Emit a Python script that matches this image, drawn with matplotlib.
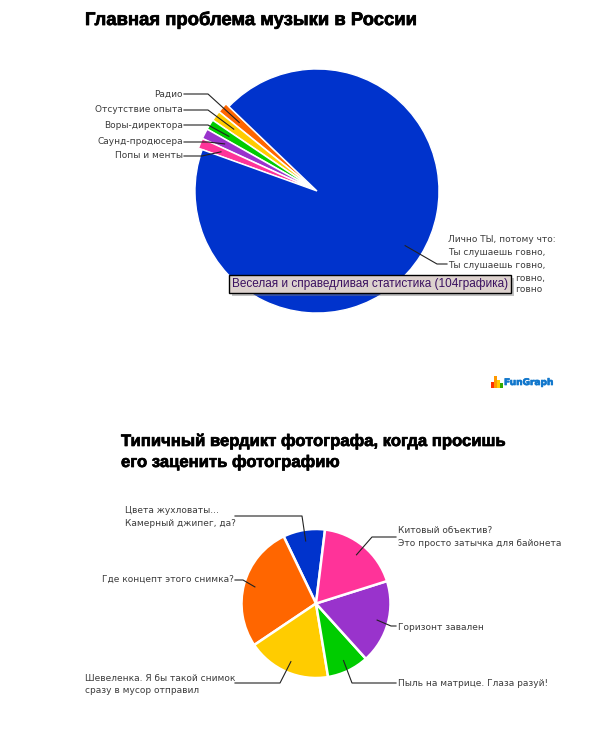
import numpy as np
import matplotlib
matplotlib.use("Agg")
import matplotlib.pyplot as plt
from matplotlib.patches import Rectangle
import matplotlib.patheffects as pe

W, H = 600, 746

# top pie
music_labels = ["Радио", "Отсутствие опыта", "Воры-директора", "Саунд-продюсера", "Попы и менты",
                "Лично ТЫ, потому что:\nТы слушаешь говно,\nТы слушаешь говно,"]
music_hidden = ["говно,", "говно"]  # the rest sticks out from under the tooltip
music_values = [1, 1, 1, 1, 1, 70]
music_explode = [4, 4, 4, 4, 4, 0]  # pie() takes this in axes units, here pixels
music_colors = ["#ff6600", "#ffcc00", "#00cc00", "#9933cc", "#ff3399", "#0033cc"]

# bottom pie
photo_labels = ["Цвета жухловаты...\nКамерный джипег, да?", "Где концепт этого снимка?",
                "Шевеленка. Я бы такой снимок\nсразу в мусор отправил", "Пыль на матрице. Глаза разуй!",
                "Горизонт завален", "Китовый объектив?\nЭто просто затычка для байонета"]
photo_values = [10, 30, 20, 10, 20, 20]
photo_colors = ["#0033cc", "#ff6600", "#ffcc00", "#00cc00", "#9933cc", "#ff3399"]

TEXT = "#3c3c3c"
LABEL_SIZE = 6.45
FONT = "DejaVu Sans"


def fy(y):
    return H - y


fig = plt.figure(figsize=(W / 100, H / 100), dpi=100, facecolor="white")
ax = fig.add_axes([0, 0, 1, 1])


def draw_pie(values, colors, cx, cy, r, start, gap, explode=None):
    wedges, _ = ax.pie(values, colors=colors, startangle=start, counterclock=True, explode=explode,
                       center=(cx, fy(cy)), radius=r,
                       wedgeprops=dict(edgecolor="white", linewidth=gap))
    return wedges


def leader(wedge, cx, cy, r, lx, ly, ex):
    # from the label across to the elbow, then into the wedge
    a = np.radians((wedge.theta1 + wedge.theta2) / 2)
    px = cx + 0.85 * r * np.cos(a)
    py = cy - 0.85 * r * np.sin(a)
    ax.plot([lx, ex, px], [fy(ly), fy(ly), fy(py)], color="#222222", lw=0.8, zorder=3,
            solid_joinstyle="round")


top = draw_pie(music_values, music_colors, 317, 191, 122, 136.2, 1.0, music_explode)
bottom = draw_pie(photo_values, photo_colors, 316, 603.5, 74.5, 83, 1.8)

# label x, label y, elbow x
top_slots = [(184, 94, 208), (184, 110, 208), (184, 125, 208), (184, 142, 208), (184, 156, 202)]
for i, (lx, ly, ex) in enumerate(top_slots):
    leader(top[i], 317, 191, 122, lx, ly, ex)
    ax.text(lx - 1, fy(ly), music_labels[i], ha="right", va="center", fontsize=LABEL_SIZE,
            color=TEXT, family=FONT, zorder=4)
leader(top[5], 317, 191, 122, 447, 264, 437)
ax.text(448.5, fy(252.5), music_labels[5], ha="left", va="center", fontsize=LABEL_SIZE,
        color=TEXT, family=FONT, linespacing=1.5, zorder=4)
for word, y in zip(music_hidden, [278, 290]):
    ax.text(515, fy(y), word, ha="left", va="center", fontsize=LABEL_SIZE,
            color=TEXT, family=FONT, zorder=4)

# label end x, line y, elbow x
bottom_lines = [(235, 516, 302), (235, 580, 243), (235, 683, 280),
                (396, 683, 352), (396, 626, 391), (396, 537, 372)]
# text x, text y, alignment
bottom_text = [(125, 517, "left"), (234, 579, "right"), (85, 684.5, "left"),
               (398, 683, "left"), (398, 627.5, "left"), (398, 537, "left")]
for i in range(6):
    lx, ly, ex = bottom_lines[i]
    tx, ty, ha = bottom_text[i]
    leader(bottom[i], 316, 603.5, 74.5, lx, ly, ex)
    ax.text(tx, fy(ty), photo_labels[i], ha=ha, va="center", fontsize=LABEL_SIZE,
            color=TEXT, family=FONT, linespacing=1.55, zorder=4)

# titles
title_fx = [pe.withStroke(linewidth=0.5, foreground="black")]
ax.text(85, fy(20), "Главная проблема музыки в России", fontsize=13.3, fontweight="bold",
        family="Liberation Sans", color="black", va="center", path_effects=title_fx)
ax.text(121, fy(441), "Типичный вердикт фотографа, когда просишь", fontsize=12.0, fontweight="bold",
        family="Liberation Sans", color="black", va="center", path_effects=title_fx)
ax.text(121, fy(462), "его заценить фотографию", fontsize=12.0, fontweight="bold",
        family="Liberation Sans", color="black", va="center", path_effects=title_fx)

# tooltip over the chart
ax.add_patch(Rectangle((232, fy(296)), 282, 18, facecolor="#777777", edgecolor="none", alpha=0.45, zorder=5))
ax.add_patch(Rectangle((229, fy(293)), 282, 18, facecolor="#ddd2ce", edgecolor="black", linewidth=1, zorder=6))
ax.text(232, fy(284.5), "Веселая и справедливая статистика (104графика)", fontsize=8.5,
        family="Liberation Sans", color="#3a1060", va="center", zorder=7)

# logo
for bx, bh, c in zip([491, 494, 497, 500], [6, 12, 8, 5], ["#ff3300", "#ff9900", "#ffcc00", "#33aa00"]):
    ax.add_patch(Rectangle((bx, fy(388)), 3, bh, facecolor=c, edgecolor="none", zorder=3))
ax.text(504, fy(382.5), "FunGraph", fontsize=6.5, fontweight="bold", family=FONT,
        color="#1177cc", va="center", zorder=3,
        path_effects=[pe.withStroke(linewidth=0.5, foreground="#1177cc")])

ax.set_xlim(0, W)
ax.set_ylim(0, H)
ax.set_aspect("auto")
ax.axis("off")
fig.savefig("out.png", dpi=100)
